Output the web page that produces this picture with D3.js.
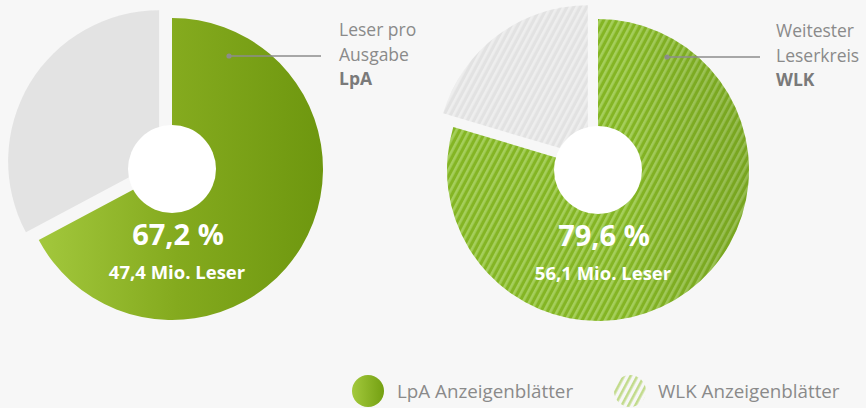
<!DOCTYPE html>
<html>
<head>
<meta charset="utf-8">
<script src="https://cdn.jsdelivr.net/npm/d3@7"></script>
<style>
  html, body { margin: 0; padding: 0; background: #f7f7f7; }
  svg { display: block; font-family: 'Open Sans', 'Noto Sans', sans-serif; }
</style>
</head>
<body>
<svg id="chart" width="866" height="408"></svg>
<script>
const keys = ['LpA', 'WLK'];
const shares = [67.2, 79.6];
const readers = ['47,4', '56,1'];
const labelLines = [['Leser pro', 'Ausgabe'], ['Weitester', 'Leserkreis']];
const legendLabels = ['LpA Anzeigenblätter', 'WLK Anzeigenblätter'];

// layout per pie
const layout = [
  { cx: 172, cy: 169, dotX: 57, lineEnd: 149, textX: 167, explode: 15 },
  { cx: 598, cy: 170, dotX: 69, lineEnd: 162, textX: 178, explode: 17 }
];
const R = 151, hole = 44;

const svg = d3.select('#chart');
const defs = svg.append('defs');

// gradient coords are in the pie group's local space (centre = 0,0)
const grad = defs.append('linearGradient').attr('id', 'lpaGrad')
  .attr('gradientUnits', 'userSpaceOnUse')
  .attr('x1', -140).attr('x2', 150)
  .attr('y1', 0).attr('y2', 0);
grad.append('stop').attr('offset', 0).attr('stop-color', '#a4c93e');
grad.append('stop').attr('offset', 0.5).attr('stop-color', '#84aa1e');
grad.append('stop').attr('offset', 1).attr('stop-color', '#6e970f');

const wlkShade = defs.append('linearGradient').attr('id', 'wlkShade')
  .attr('gradientUnits', 'userSpaceOnUse')
  .attr('x1', -R).attr('x2', R)
  .attr('y1', 0).attr('y2', 0);
wlkShade.append('stop').attr('offset', 0).attr('stop-color', '#000').attr('stop-opacity', 0);
wlkShade.append('stop').attr('offset', 0.6).attr('stop-color', '#000').attr('stop-opacity', 0);
wlkShade.append('stop').attr('offset', 1).attr('stop-color', '#203000').attr('stop-opacity', 0.12);

const legGrad = defs.append('linearGradient').attr('id', 'legGrad');
legGrad.append('stop').attr('offset', 0).attr('stop-color', '#a3c93c');
legGrad.append('stop').attr('offset', 1).attr('stop-color', '#74a012');

function stripes(id, base, line, w, gap) {
  const p = defs.append('pattern').attr('id', id)
    .attr('patternUnits', 'userSpaceOnUse')
    .attr('width', w + gap).attr('height', 10)
    .attr('patternTransform', 'rotate(28)');
  p.append('rect').attr('width', w + gap).attr('height', 10).attr('fill', base);
  p.append('rect').attr('width', w).attr('height', 10).attr('fill', line);
}
stripes('wlkGreen', '#84b524', '#a6cf5c', 2.6, 3.2);
stripes('wlkGrey', '#e2e2e2', '#eeeeee', 2.6, 3.2);
stripes('legStripe', '#f7f7f7', '#c2db8c', 2.6, 3.4);

const pie = d3.pie().sort(null).value(d => d);
const arc = d3.arc().innerRadius(0).outerRadius(R);
const fills = [['url(#lpaGrad)', '#e3e3e3'], ['url(#wlkGreen)', 'url(#wlkGrey)']];

keys.forEach((k, i) => {
  const L = layout[i];
  const g = svg.append('g').attr('transform', `translate(${L.cx},${L.cy})`);
  const arcs = pie([shares[i], 100 - shares[i]]);

  g.selectAll('path.slice')
    .data(arcs)
    .join('path')
    .attr('class', 'slice')
    .attr('d', arc)
    .attr('fill', (d, j) => fills[i][j])
    .attr('transform', (d, j) => {
      if (j === 0) return null;
      const a = (d.startAngle + d.endAngle) / 2;
      return `translate(${Math.sin(a) * L.explode},${-Math.cos(a) * L.explode})`;
    });

  if (i === 1) {
    g.append('path').attr('d', arc(arcs[0])).attr('fill', 'url(#wlkShade)');
  }

  g.append('circle').attr('r', hole).attr('fill', '#fff');

  g.append('text')
    .attr('x', 6).attr('y', 76)
    .attr('text-anchor', 'middle')
    .attr('fill', '#fff').attr('font-weight', 700).attr('font-size', 29)
    .text(d3.format('.1f')(shares[i]).replace('.', ',') + ' %');

  g.append('text')
    .attr('x', 5).attr('y', 110)
    .attr('text-anchor', 'middle')
    .attr('fill', '#fff').attr('font-weight', 700).attr('font-size', 18.5)
    .text(readers[i] + ' Mio. Leser');

  // leader
  g.append('line')
    .attr('x1', L.dotX).attr('x2', L.lineEnd)
    .attr('y1', -113).attr('y2', -113)
    .attr('stroke', '#8c8c8c').attr('stroke-width', 1.5);
  g.append('circle').attr('cx', L.dotX).attr('cy', -113).attr('r', 2.6).attr('fill', '#8c8c8c');

  const t = g.append('text')
    .attr('fill', '#8a8a8a').attr('font-size', 17.5);
  labelLines[i].forEach((s, j) => {
    t.append('tspan').attr('x', L.textX).attr('y', -133 + j * 24.5).text(s);
  });
  t.append('tspan').attr('x', L.textX).attr('y', -133 + 2 * 24.5)
    .attr('font-weight', 700).attr('fill', '#7a7a7a').text(k);
});

// legend
const legend = svg.append('g');
const legX = [368, 630];
const legFill = ['url(#legGrad)', 'url(#legStripe)'];
legendLabels.forEach((s, i) => {
  legend.append('circle').attr('cx', legX[i]).attr('cy', 391).attr('r', 16).attr('fill', legFill[i]);
  legend.append('text')
    .attr('x', legX[i] + (i === 0 ? 29 : 28)).attr('y', 398)
    .attr('fill', '#8a8a8a').attr('font-size', 18.8)
    .text(s);
});
</script>
</body>
</html>
